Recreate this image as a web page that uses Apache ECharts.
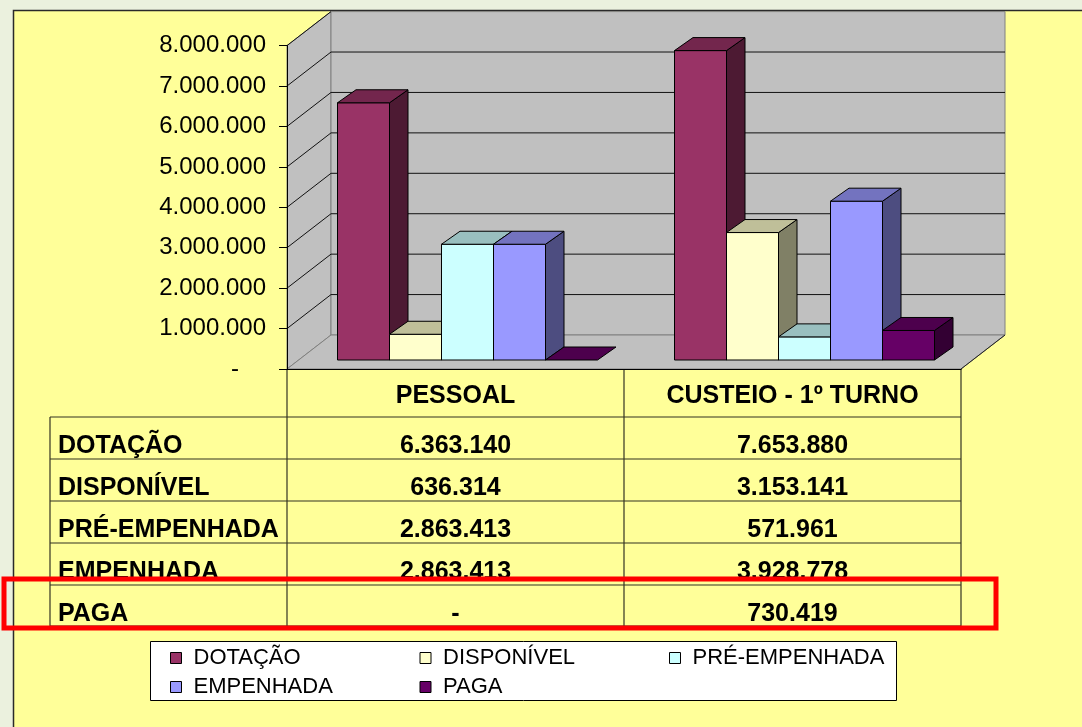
<!DOCTYPE html>
<html><head><meta charset="utf-8">
<script src="https://cdn.jsdelivr.net/npm/echarts@6/dist/echarts.min.js"></script>
<style>html,body{margin:0;padding:0;background:#EBF1DE;} #c{width:1082px;height:727px;}</style>
</head><body><div id="c"></div>
<script>
// ---------- DATA ----------
const categories = ['PESSOAL', 'CUSTEIO - 1º TURNO'];
const seriesNames = ['DOTAÇÃO', 'DISPONÍVEL', 'PRÉ-EMPENHADA', 'EMPENHADA', 'PAGA'];
const dotacao = [6363140, 7653880];
const disponivel = [636314, 3153141];
const preEmpenhada = [2863413, 571961];
const empenhada = [2863413, 3928778];
const paga = [0, 730419];
const yTicks = [0, 1000000, 2000000, 3000000, 4000000, 5000000, 6000000, 7000000, 8000000];
const seriesValues = [dotacao, disponivel, preEmpenhada, empenhada, paga];

// ---------- STYLE ----------
const FONT = 'Liberation Sans, Arial, sans-serif';
const colors = ['#993366', '#FFFFCC', '#CCFFFF', '#9999FF', '#660066'];
const BAR_FRAC = 52 / 337;          // bar width as fraction of category band
const BDX = 18.5, BDY = -13;        // bar depth projection
const FX = -12, FY = 9;             // front plane offset from bar plane
const BX = 32, BY = -25;            // back wall offset from bar plane

function shade(hex, f) {
  const n = parseInt(hex.slice(1), 16);
  const r = Math.round(((n >> 16) & 255) * f), g = Math.round(((n >> 8) & 255) * f), b = Math.round((n & 255) * f);
  return 'rgb(' + r + ',' + g + ',' + b + ')';
}
function fmt(n) {
  if (n === 0) return '-';
  return String(n).replace(/\B(?=(\d{3})+(?!\d))/g, '.');
}

function barRender(sIdx) {
  return function (params, api) {
    const ci = api.value(0), v = api.value(1);
    const p0 = api.coord([ci, 0]), p1 = api.coord([ci, v]);
    const band = api.size([1, 0])[0];
    const bw = band * BAR_FRAC;
    const x0 = p0[0] - 2.5 * bw + sIdx * bw, x1 = x0 + bw;
    const yb = p0[1], yt = p1[1];
    const c = colors[sIdx];
    const st = { stroke: '#000', lineWidth: 1, lineJoin: 'round' };
    const ch = [];
    if (yb - yt > 0.5) {
      ch.push({ type: 'polygon', shape: { points: [[x1, yt], [x1 + BDX, yt + BDY], [x1 + BDX, yb + BDY], [x1, yb]] },
        style: Object.assign({ fill: shade(c, 0.5) }, st) });
      ch.push({ type: 'rect', shape: { x: x0, y: yt, width: bw, height: yb - yt },
        style: Object.assign({ fill: c }, st) });
    }
    ch.push({ type: 'polygon', shape: { points: [[x0, yt], [x1, yt], [x1 + BDX, yt + BDY], [x0 + BDX, yt + BDY]] },
      style: Object.assign({ fill: shade(c, 0.75) }, st) });
    return { type: 'group', children: ch };
  };
}

function wallRender(params, api) {
  const cs = params.coordSys;
  const xa = cs.x, xb = cs.x + cs.width;
  const y0 = api.coord([0, yTicks[0]])[1];
  const yTop = api.coord([0, yTicks[yTicks.length - 1]])[1];
  const gray = '#C0C0C0', edge = '#808080';
  const ch = [];
  ch.push({ type: 'polygon', shape: { points: [[xa + FX, yTop + FY], [xa + BX, yTop + BY], [xa + BX, y0 + BY], [xa + FX, y0 + FY]] },
    style: { fill: gray, stroke: edge, lineWidth: 1 } });
  ch.push({ type: 'rect', shape: { x: xa + BX, y: yTop + BY, width: xb - xa, height: y0 - yTop },
    style: { fill: gray, stroke: edge, lineWidth: 1 } });
  ch.push({ type: 'polygon', shape: { points: [[xa + FX, y0 + FY], [xb + FX, y0 + FY], [xb + BX, y0 + BY], [xa + BX, y0 + BY]] },
    style: { fill: gray, stroke: edge, lineWidth: 1 } });
  ch.push({ type: 'line', shape: { x1: xb + FX, y1: y0 + FY, x2: xb + BX, y2: y0 + BY }, style: { stroke: '#222', lineWidth: 1 } });
  yTicks.forEach(function (t, i) {
    if (i === 0) return;
    const y = api.coord([0, t])[1];
    ch.push({ type: 'line', shape: { x1: xa + FX, y1: y + FY, x2: xa + BX, y2: y + BY }, style: { stroke: '#111', lineWidth: 1 } });
    if (i < yTicks.length - 1)
      ch.push({ type: 'line', shape: { x1: xa + BX, y1: y + BY, x2: xb + BX, y2: y + BY }, style: { stroke: '#111', lineWidth: 1 } });
  });
  return { type: 'group', children: ch };
}

// ---------- TABLE (graphic) ----------
const TX = { xL: 50, xA: 287, xB: 624, xR: 961 };
const rowLines = [417, 459, 501, 543, 585, 626];
const tableGraphics = [];
const lineStyle = { stroke: '#333322', lineWidth: 1.2 };
const TFONT = 'bold 25px ' + FONT;
rowLines.forEach(function (y) {
  tableGraphics.push({ type: 'line', z: 1, shape: { x1: TX.xL, y1: y, x2: TX.xR, y2: y }, style: lineStyle });
});
tableGraphics.push({ type: 'line', z: 1, shape: { x1: TX.xL, y1: 417, x2: TX.xL, y2: 626 }, style: lineStyle });
[TX.xA, TX.xB, TX.xR].forEach(function (x) {
  tableGraphics.push({ type: 'line', z: 1, shape: { x1: x, y1: 369, x2: x, y2: 626 }, style: lineStyle });
});
seriesNames.forEach(function (name, i) {
  const y = rowLines[i] + 29;
  tableGraphics.push({ type: 'text', z: 2, style: { text: name, x: 58, y: y, font: TFONT, fill: '#000',
    align: 'left', verticalAlign: 'middle', textAlign: 'left', textVerticalAlign: 'middle' } });
  [0, 1].forEach(function (ci) {
    const cx = ci === 0 ? (TX.xA + TX.xB) / 2 : (TX.xB + TX.xR) / 2;
    tableGraphics.push({ type: 'text', z: 2, style: { text: fmt(seriesValues[i][ci]), x: cx, y: y, font: TFONT, fill: '#000',
      align: 'center', verticalAlign: 'middle', textAlign: 'center', textVerticalAlign: 'middle' } });
  });
});

const chart = echarts.init(document.getElementById('c'));
const option = {
  backgroundColor: '#EBF1DE',
  animation: false,
  grid: [
    { left: 299, top: 36.6, width: 674, height: 323.4 },
    { left: 287, top: 45.6, width: 674, height: 323.4 }
  ],
  xAxis: [
    { gridIndex: 0, type: 'category', data: categories, show: false },
    { gridIndex: 1, type: 'category', data: categories, z: 5,
      axisLine: { show: true, lineStyle: { color: '#000', width: 1 } },
      axisTick: { show: false },
      axisLabel: { margin: 15, color: '#000', fontFamily: FONT, fontWeight: 'bold', fontSize: 25 } }
  ],
  yAxis: [
    { gridIndex: 0, type: 'value', min: 0, max: 8000000, interval: 1000000, show: false },
    { gridIndex: 1, type: 'value', min: 0, max: 8000000, interval: 1000000, z: 5,
      axisLine: { show: true, lineStyle: { color: '#000', width: 1 } },
      axisTick: { show: true, inside: false, length: 8, lineStyle: { color: '#000' } },
      splitLine: { show: false },
      axisLabel: { margin: 21, color: '#000', fontFamily: FONT, fontSize: 24,
        formatter: function (v) { return v === 0 ? '{z|-}' : fmt(v); },
        rich: { z: { fontFamily: FONT, fontSize: 24, color: '#000', padding: [0, 27, 0, 0] } } } }
  ],
  legend: {
    data: seriesNames, left: 170, top: 647, width: 760, padding: 0,
    icon: 'rect', itemWidth: 11, itemHeight: 11, itemGap: 7,
    itemStyle: { borderColor: '#000', borderWidth: 1 },
    textStyle: { fontFamily: FONT, fontSize: 22, color: '#000', width: 219, lineHeight: 15, padding: [0, 0, 0, 7] },
    selectedMode: false
  },
  graphic: [
    { type: 'rect', z: -10, silent: true, shape: { x: 13.5, y: 10.5, width: 1100, height: 800 },
      style: { fill: '#FFFF99', stroke: '#2a2a2a', lineWidth: 1.5 } },
    { type: 'rect', z: 3, silent: true, shape: { x: 150.5, y: 641.5, width: 746, height: 59 },
      style: { fill: '#FFFFFF', stroke: '#000', lineWidth: 1 } }
  ].concat(tableGraphics).concat([
    { type: 'rect', z: 100, silent: true, shape: { x: 4, y: 579, width: 992, height: 49 },
      style: { fill: 'none', stroke: '#FF0000', lineWidth: 5 } }
  ]),
  series: [
    { type: 'custom', name: '_walls', xAxisIndex: 0, yAxisIndex: 0, z: 1, silent: true,
      renderItem: wallRender, data: [[0, 0]], encode: { x: 0, y: 1 } }
  ].concat(seriesNames.map(function (name, i) {
    return {
      type: 'custom', name: name, xAxisIndex: 0, yAxisIndex: 0, z: 2, silent: true,
      itemStyle: { color: colors[i] },
      renderItem: barRender(i),
      encode: { x: 0, y: 1 },
      data: seriesValues[i].map(function (v, ci) { return [ci, v]; })
    };
  }))
};
chart.setOption(option);
</script></body></html>
